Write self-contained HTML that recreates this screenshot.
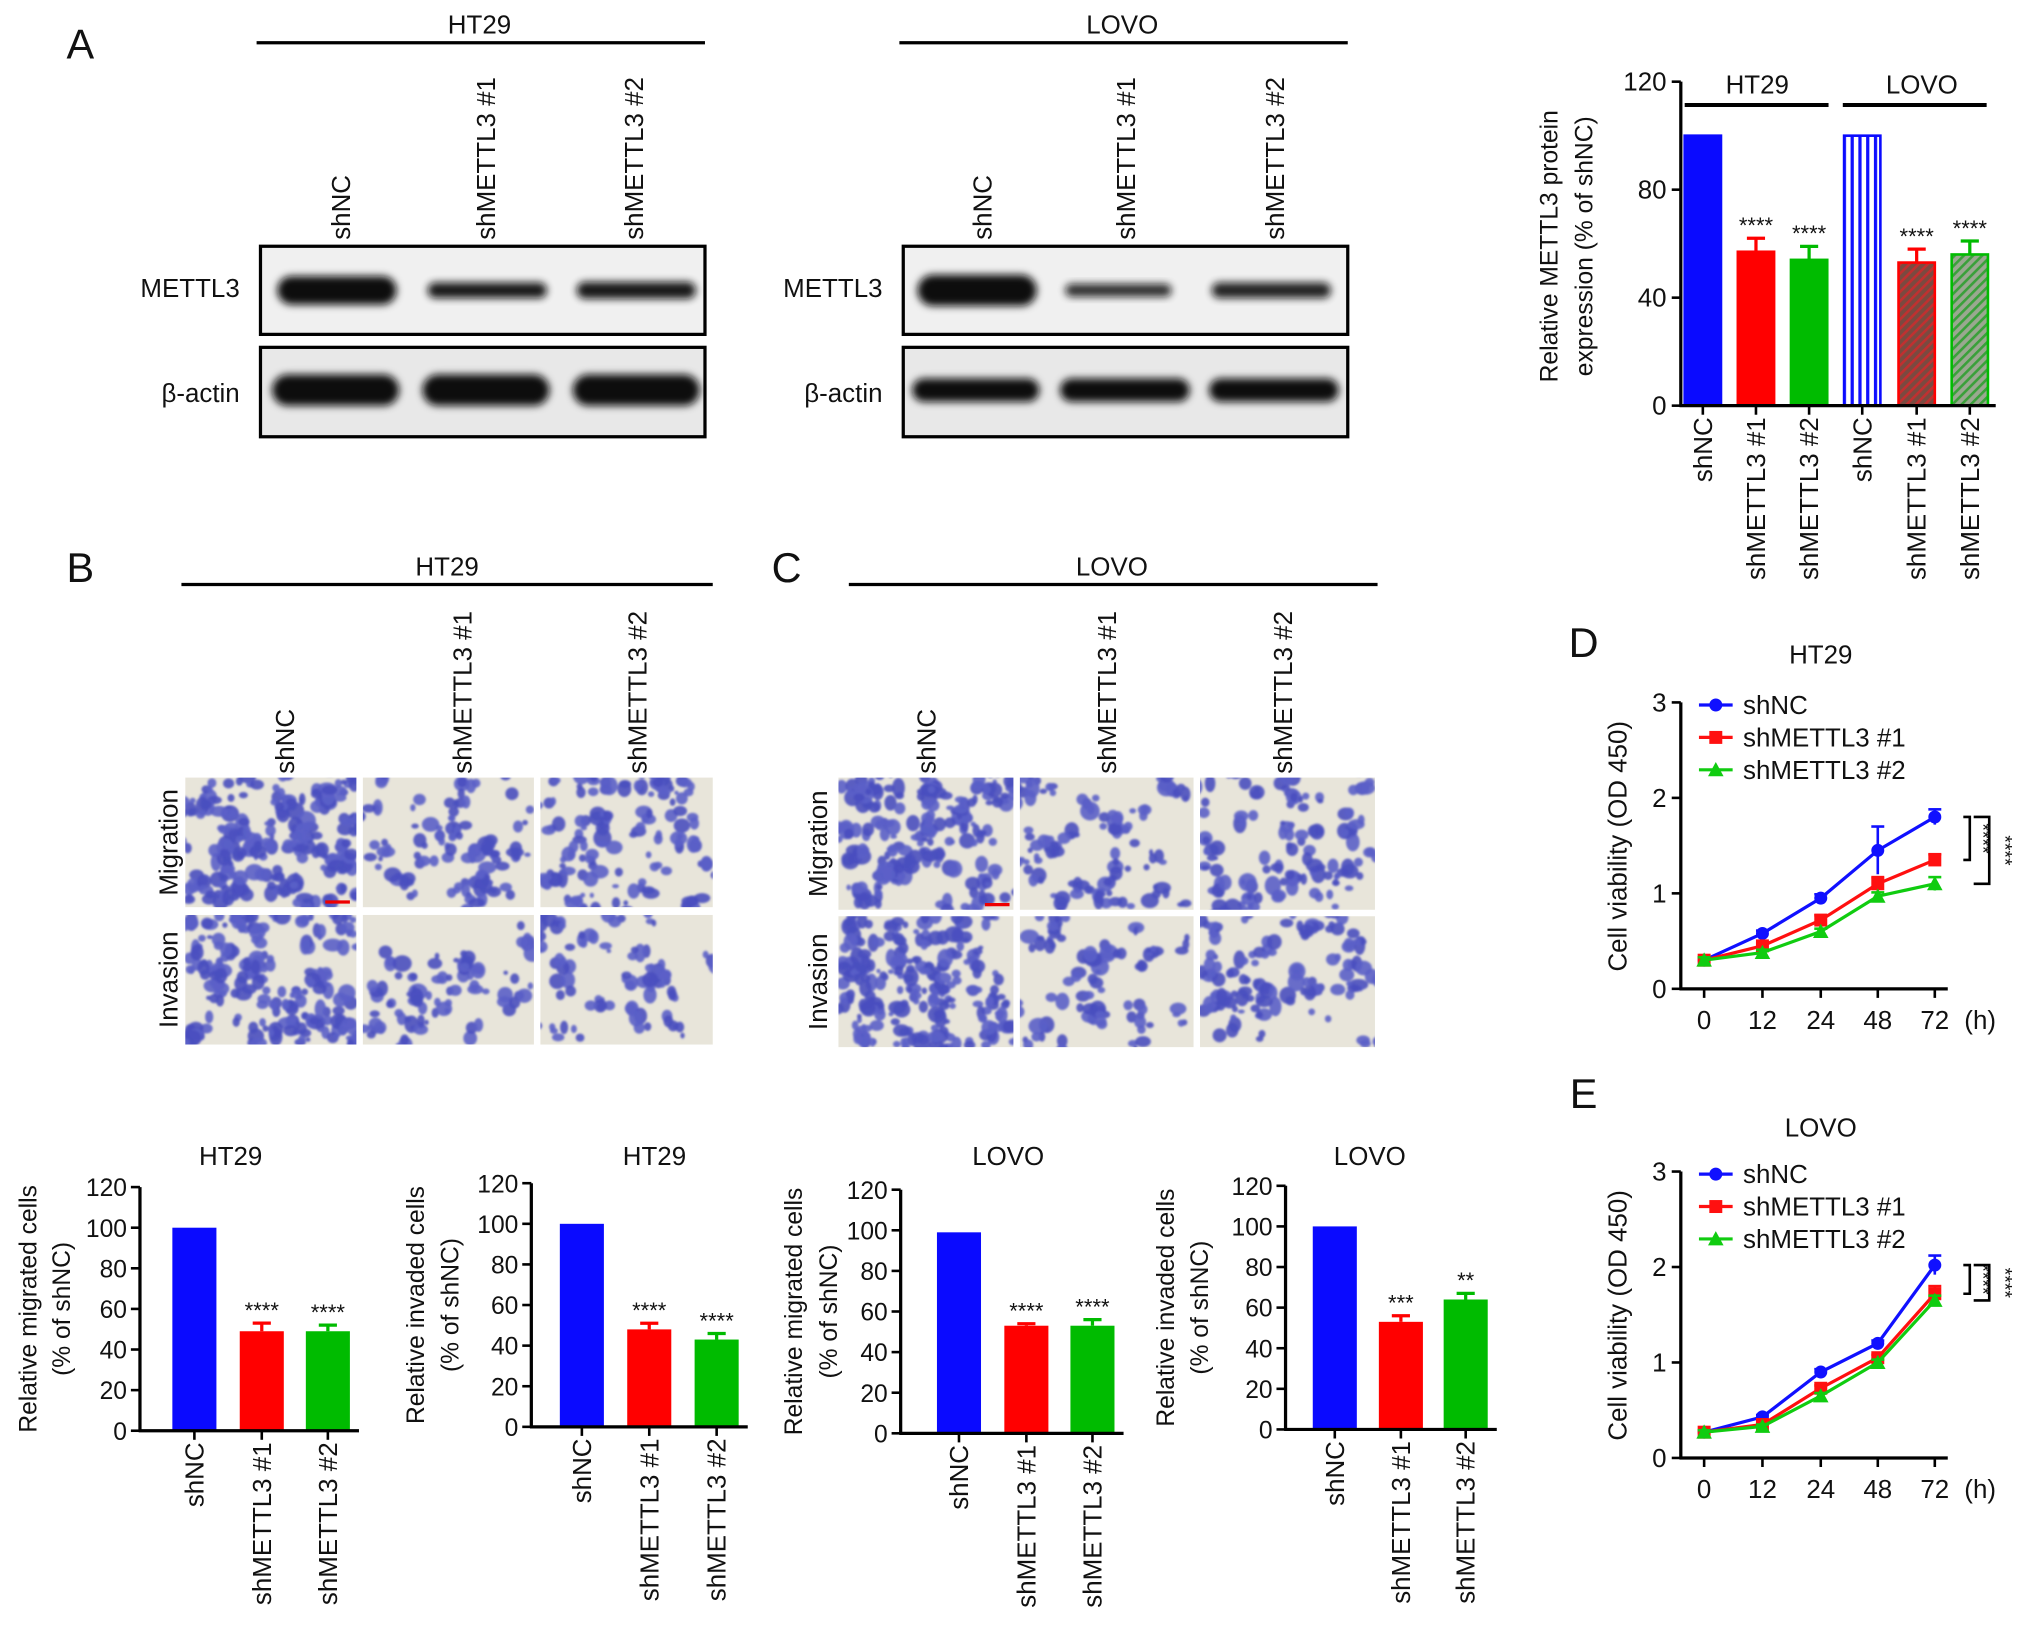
<!DOCTYPE html>
<html><head><meta charset="utf-8"><style>
html,body{margin:0;padding:0;background:#fff;}
svg{display:block;font-family:"Liberation Sans",Arial,sans-serif;}
</style></head><body>
<svg id="fig" width="2032" height="1642" viewBox="0 0 1568 1267" xmlns="http://www.w3.org/2000/svg">
<defs>
<filter id="blur" x="-20%" y="-50%" width="140%" height="200%"><feGaussianBlur stdDeviation="3"/></filter>
<filter id="blur2"><feGaussianBlur stdDeviation="0.8"/></filter>
<pattern id="vstripe" width="6" height="10" patternUnits="userSpaceOnUse"><rect width="6" height="10" fill="#fff"/><rect width="2.5" height="10" fill="#1010ff"/></pattern>
<pattern id="rhatch" width="5" height="5" patternUnits="userSpaceOnUse" patternTransform="rotate(45)"><rect width="5" height="5" fill="#7a4a40"/><rect width="2" height="5" fill="#c03030"/></pattern>
<pattern id="ghatch" width="5" height="5" patternUnits="userSpaceOnUse" patternTransform="rotate(45)"><rect width="5" height="5" fill="#9aa890"/><rect width="2" height="5" fill="#3aa03a"/></pattern>
</defs>
<g id="root"></g>
</svg>
<script>
// ---- data ----
const protCats = ["shNC","shMETTL3 #1","shMETTL3 #2","shNC","shMETTL3 #1","shMETTL3 #2"];
const protVals = [100,57,54,100,53,56];
const protErr = [0,5,5,0,5,5];
const barCats = ["shNC","shMETTL3 #1","shMETTL3 #2"];
const migHT29 = [100,49,49];
const invHT29 = [100,48,43];
const migLOVO = [99,53,53];
const invLOVO = [100,53,64];
const errHT29m = [0,4,3];
const errHT29i = [0,3,3];
const errLOVOm = [0,1,3];
const errLOVOi = [0,3,3];
const starsHT29m = ["","****","****"];
const starsHT29i = ["","****","****"];
const starsLOVOm = ["","****","****"];
const starsLOVOi = ["","***","**"];
const yTicks120 = [0,20,40,60,80,100,120];
const protTicks = [0,40,80,120];
const timeCats = ["0","12","24","48","72"];
const viabTicks = [0,1,2,3];
const htNC = [0.3,0.58,0.95,1.45,1.8];
const htS1 = [0.3,0.45,0.72,1.1,1.35];
const htS2 = [0.3,0.38,0.6,0.97,1.1];
const htNCe = [0.03,0.03,0.04,0.25,0.08];
const htS1e = [0.03,0.03,0.05,0.07,0.06];
const htS2e = [0.03,0.03,0.03,0.04,0.07];
const loNC = [0.27,0.43,0.9,1.2,2.02];
const loS1 = [0.27,0.35,0.73,1.05,1.72];
const loS2 = [0.27,0.33,0.65,1.0,1.65];
const loNCe = [0.02,0.02,0.03,0.03,0.1];
const loS1e = [0.02,0.02,0.03,0.03,0.08];
const loS2e = [0.02,0.02,0.03,0.03,0.05];

const NS="http://www.w3.org/2000/svg";
const root=document.getElementById('root');
function el(tag,attrs,parent,txt){const e=document.createElementNS(NS,tag);for(const k in attrs)e.setAttribute(k,attrs[k]);if(txt!==undefined)e.textContent=txt;(parent||root).appendChild(e);return e;}
function text(x,y,s,size,anchor,rot,parent){const a={x:x,y:y,'font-size':size,'text-anchor':anchor||'middle',fill:'#111'};if(rot)a.transform=`rotate(${rot} ${x} ${y})`;return el('text',a,parent,s);}
function line(x1,y1,x2,y2,w,c,parent){return el('line',{x1,y1,x2,y2,stroke:c||'#000','stroke-width':w||2},parent);}

// ---- Panel labels ----
[["A",62,45],["B",62,449],["C",607,449],["D",1222,507],["E",1222,855]].forEach(p=>{const t=text(p[1],p[2],p[0],32);});

// ---- Panel A western blots ----
function blot(x0,header,labelXs,bandsM,bandsA){
  const g=el('g',{});
  
  
  text(x0+172,26,header,20,'middle',0,g);
  line(x0,33,x0+346,33,2.5,'#000',g);
  labelXs.forEach((lx,i)=>{const t=text(lx,185,barCats[i],20,'start',-90,g);});
  const b1=el('rect',{x:x0+3,y:190,width:343,height:68,fill:'#f0f0f0',stroke:'#000','stroke-width':2.5},g);
  
  const b2=el('rect',{x:x0+3,y:268,width:343,height:69,fill:'#e8e8e8',stroke:'#000','stroke-width':2.5},g);
  
  text(x0-13,229,'METTL3',20,'end',0,g);
  text(x0-13,310,'β-actin',20,'end',0,g);
  bandsM.forEach(b=>el('rect',{x:b[0],y:224-b[2]/2,width:b[1],height:b[2],rx:b[2]/2,fill:'#111',opacity:b[3],filter:'url(#blur)'},g));
  bandsA.forEach(b=>el('rect',{x:b[0],y:301-b[2]/2,width:b[1],height:b[2],rx:b[2]/2,fill:'#111',opacity:b[3],filter:'url(#blur)'},g));
}
blot(198,'HT29',[270,382,496],[[214,92,22,1],[330,92,12,0.95],[445,92,13,0.95]],[[210,98,24,1],[326,98,24,1],[442,98,24,1]]);
blot(694,'LOVO',[765,876,991],[[708,92,24,1],[822,82,10,0.85],[935,92,12,0.9]],[[704,98,18,1],[818,100,18,1],[933,100,18,1]]);

// ---- Top-right protein bar chart ----
(function(){
  const g=el('g',{});
  const ax=1297,y0=313,y1=63,vmax=120;
  const Y=v=>y0-(y0-y1)*v/vmax;
  const xs=[1314,1355,1396,1437,1479,1520];const bw=30;
  const fills=['#0a0aff','#ff0000','#00bb00','url(#vstripe)','url(#rhatch)','url(#ghatch)'];
  const strokes=['#0a0aff','#ff0000','#00bb00','#0a0aff','#ff0000','#00bb00'];
  protVals.forEach((v,i)=>{
    const r=el('rect',{x:xs[i]-bw/2+1,y:Y(v),width:bw-2,height:y0-Y(v),fill:fills[i],stroke:strokes[i],'stroke-width':2},g);
    
    
    if(protErr[i]){const ye=Y(v+protErr[i]);line(xs[i],Y(v),xs[i],ye,2.5,strokes[i],g);line(xs[i]-7,ye,xs[i]+7,ye,2.5,strokes[i],g);text(xs[i],ye-4,'****',17,'middle',0,g);}
    line(xs[i],y0,xs[i],y0+7,2,'#000',g);
    text(xs[i]+7,322,protCats[i],20,'end',-90,g);
  });
  line(ax,y1,ax,y0+1,2.5,'#000',g);line(ax-1,y0,1540,y0,2.5,'#000',g);
  protTicks.forEach(t=>{line(ax-7,Y(t),ax,Y(t),2,'#000',g);text(ax-11,Y(t)+7,String(t),20,'end',0,g);});
  text(1356,72,'HT29',20,'middle',0,g);line(1300,81,1411,81,3,'#000',g);
  text(1483,72,'LOVO',20,'middle',0,g);line(1422,81,1533,81,3,'#000',g);
  text(1202,190,'Relative METTL3 protein',19,'middle',-90,g);
  text(1229,190,'expression (% of shNC)',19,'middle',-90,g);
})();

// ---- Panels B/C transwell images ----
let seed=7;function rnd(){seed=(seed*16807)%2147483647;return seed/2147483647;}
function micro(x,y,w,h,density,name){
  const g=el('g',{});
  el('rect',{x,y,width:w,height:h,fill:'#e8e5da'},g);
  const cp=el('clipPath',{id:'c'+name},g);el('rect',{x,y,width:w,height:h},cp);
  const gg=el('g',{'clip-path':`url(#c${name})`,filter:'url(#blur2)'},g);
  const n=Math.round(density*w*h/1600);
  for(let i=0;i<n;i++){
    const cx=x+rnd()*w,cy=y+rnd()*h;const k=2+Math.floor(rnd()*4);
    for(let j=0;j<k;j++){const r=2+rnd()*4;el('ellipse',{cx:cx+(rnd()-0.5)*14,cy:cy+(rnd()-0.5)*14,rx:r*(0.7+rnd()*0.6),ry:r*(0.7+rnd()*0.6),fill:rnd()<0.5?'#4a4fbf':'#5b5fc8',opacity:0.9},gg);}
  }
}
function transwell(hx,x0,x1,header,labelXs,cols,rows,dens,rowLabX,prefix){
  text(hx,444,header,20,'middle',0);line(x0,451,x1,451,2.5);
  labelXs.forEach((lx,i)=>text(lx,597,barCats[i],20,'start',-90));
  rows.forEach((r,ri)=>cols.forEach((c,ci)=>micro(c[0],r[0],c[1],r[1],dens[ri][ci],prefix+'-img-'+ri+'-'+ci)));
  text(rowLabX,(rows[0][0]+rows[0][0]+rows[0][1])/2,'Migration',20,'middle',-90);
  text(rowLabX,(rows[1][0]+rows[1][0]+rows[1][1])/2,'Invasion',20,'middle',-90);
}
transwell(345,140,550,'HT29',[227,364,499],[[143,132],[280,132],[417,133]],[[600,100],[706,100]],[[9,4,5],[8,3,3.5]],137,'ht29');
transwell(858,655,1063,'LOVO',[722,861,997],[[647,135],[787,134],[926,135]],[[600,102],[707,101]],[[8,3.5,4.5],[9,3.5,5]],638,'lovo');
el('line',{x1:251,y1:696,x2:270,y2:696,stroke:'#e00','stroke-width':2.5});
el('line',{x1:760,y1:698,x2:779,y2:698,stroke:'#e00','stroke-width':2.5});

// ---- bottom bar charts ----
function barChart(name,ax,y0,title,tx,vals,errs,stars,ylab1,ylab2,lx1,lx2,bx){
  const g=el('g',{});
  const y1=y0-188,Y=v=>y0-(y0-y1)*v/120;
  const cols=['#0a0aff','#ff0000','#00bb00'];
  vals.forEach((v,i)=>{
    const cx=bx[i];
    const r=el('rect',{x:cx-17,y:Y(v),width:34,height:y0-Y(v),fill:cols[i]},g);
    
    
    if(errs[i]){const ye=Y(v+errs[i]);line(cx,Y(v),cx,ye,2.5,cols[i],g);line(cx-7,ye,cx+7,ye,2.5,cols[i],g);}
    if(stars[i])text(cx,Y(v+errs[i])-4,stars[i],17,'middle',0,g);
    line(cx,y0,cx,y0+7,2,'#000',g);
    text(cx+7,y0+9,barCats[i],20,'end',-90,g);
  });
  line(ax,y1,ax,y0+1,2.5,'#000',g);line(ax-1,y0,bx[2]+24,y0,2.5,'#000',g);
  yTicks120.forEach(t=>{line(ax-7,Y(t),ax,Y(t),2,'#000',g);text(ax-10,Y(t)+7,String(t),19,'end',0,g);});
  text(tx,899,title,20,'middle',0,g);
  text(lx1,y0-94,ylab1,19,'middle',-90,g);
  text(lx2,y0-94,ylab2,19,'middle',-90,g);
}
barChart('ht29-migration-chart',108,1104,'HT29',178,migHT29,errHT29m,starsHT29m,'Relative migrated cells','(% of shNC)',28,54,[150,202,253]);
barChart('ht29-invasion-chart',410,1101,'HT29',505,invHT29,errHT29i,starsHT29i,'Relative invaded cells','(% of shNC)',327,354,[449,501,553]);
barChart('lovo-migration-chart',695,1106,'LOVO',778,migLOVO,errLOVOm,starsLOVOm,'Relative migrated cells','(% of shNC)',619,646,[740,792,843]);
barChart('lovo-invasion-chart',992,1103,'LOVO',1057,invLOVO,errLOVOi,starsLOVOi,'Relative invaded cells','(% of shNC)',906,932,[1030,1081,1131]);

// ---- line charts ----
function lineChart(name,y0,title,ty,series,errs,legY,bra){
  const g=el('g',{});
  const ax=1297,y1=y0-221,Y=v=>y0-(y0-y1)*v/3;
  const xs=[1315,1360,1405,1449,1493];
  const cols=['#1010ff','#ff1010','#10cc10'];const names=['shNC','shMETTL3 #1','shMETTL3 #2'];
  line(ax,y1,ax,y0+1,2.5,'#000',g);line(ax-1,y0,1503,y0,2.5,'#000',g);
  viabTicks.forEach(t=>{line(ax-7,Y(t),ax,Y(t),2,'#000',g);text(ax-11,Y(t)+7,String(t),20,'end',0,g);});
  timeCats.forEach((c,i)=>{line(xs[i],y0,xs[i],y0+7,2,'#000',g);text(xs[i],y0+31,c,20,'middle',0,g);});
  text(1528,y0+31,'(h)',20,'middle',0,g);
  text(1405,ty,title,20,'middle',0,g);
  text(1255,y0-110,'Cell viability (OD 450)',20,'middle',-90,g);
  series.forEach((s,si)=>{
    const sg=el('g',{},g);
    el('polyline',{points:s.map((v,i)=>xs[i]+','+Y(v)).join(' '),fill:'none',stroke:cols[si],'stroke-width':2.5},sg);
    s.forEach((v,i)=>{const e=errs[si][i];line(xs[i],Y(v-e),xs[i],Y(v+e),2,cols[si],sg);line(xs[i]-5,Y(v+e),xs[i]+5,Y(v+e),2,cols[si],sg);
      if(si==0)el('circle',{cx:xs[i],cy:Y(v),r:5,fill:cols[si]},sg);
      else if(si==1)el('rect',{x:xs[i]-5,y:Y(v)-5,width:10,height:10,fill:cols[si]},sg);
      else el('polygon',{points:`${xs[i]},${Y(v)-6} ${xs[i]-6},${Y(v)+5} ${xs[i]+6},${Y(v)+5}`,fill:cols[si]},sg);});
    const ly=legY+si*25;
    const lg=el('g',{},g);
    line(1311,ly,1337,ly,2.5,cols[si],lg);
    if(si==0)el('circle',{cx:1324,cy:ly,r:5,fill:cols[si]},lg);else if(si==1)el('rect',{x:1319,y:ly-5,width:10,height:10,fill:cols[si]},lg);else el('polygon',{points:`1324,${ly-6} 1318,${ly+5} 1330,${ly+5}`,fill:cols[si]},lg);
    text(1345,ly+7,names[si],20,'start',0,lg);
  });
  const bx1=1520,bx2=1535;
  el('polyline',{points:`${bx1-5},${Y(bra[0])} ${bx1},${Y(bra[0])} ${bx1},${Y(bra[1])} ${bx1-5},${Y(bra[1])}`,fill:'none',stroke:'#000','stroke-width':2},g);
  el('polyline',{points:`${bx2-12},${Y(bra[0])} ${bx2},${Y(bra[0])} ${bx2},${Y(bra[2])} ${bx2-12},${Y(bra[2])}`,fill:'none',stroke:'#000','stroke-width':2},g);
  text(bx1+5,Y((bra[0]+bra[1])/2),'****',15,'middle',90,g);
  text(bx2+7,Y((bra[0]+bra[2])/2),'****',15,'middle',90,g);
}
lineChart('ht29-viability-chart',763,'HT29',512,[htNC,htS1,htS2],[htNCe,htS1e,htS2e],544,[1.8,1.35,1.1]);
lineChart('lovo-viability-chart',1125,'LOVO',877,[loNC,loS1,loS2],[loNCe,loS1e,loS2e],906,[2.02,1.72,1.65]);
</script>
</body></html>
